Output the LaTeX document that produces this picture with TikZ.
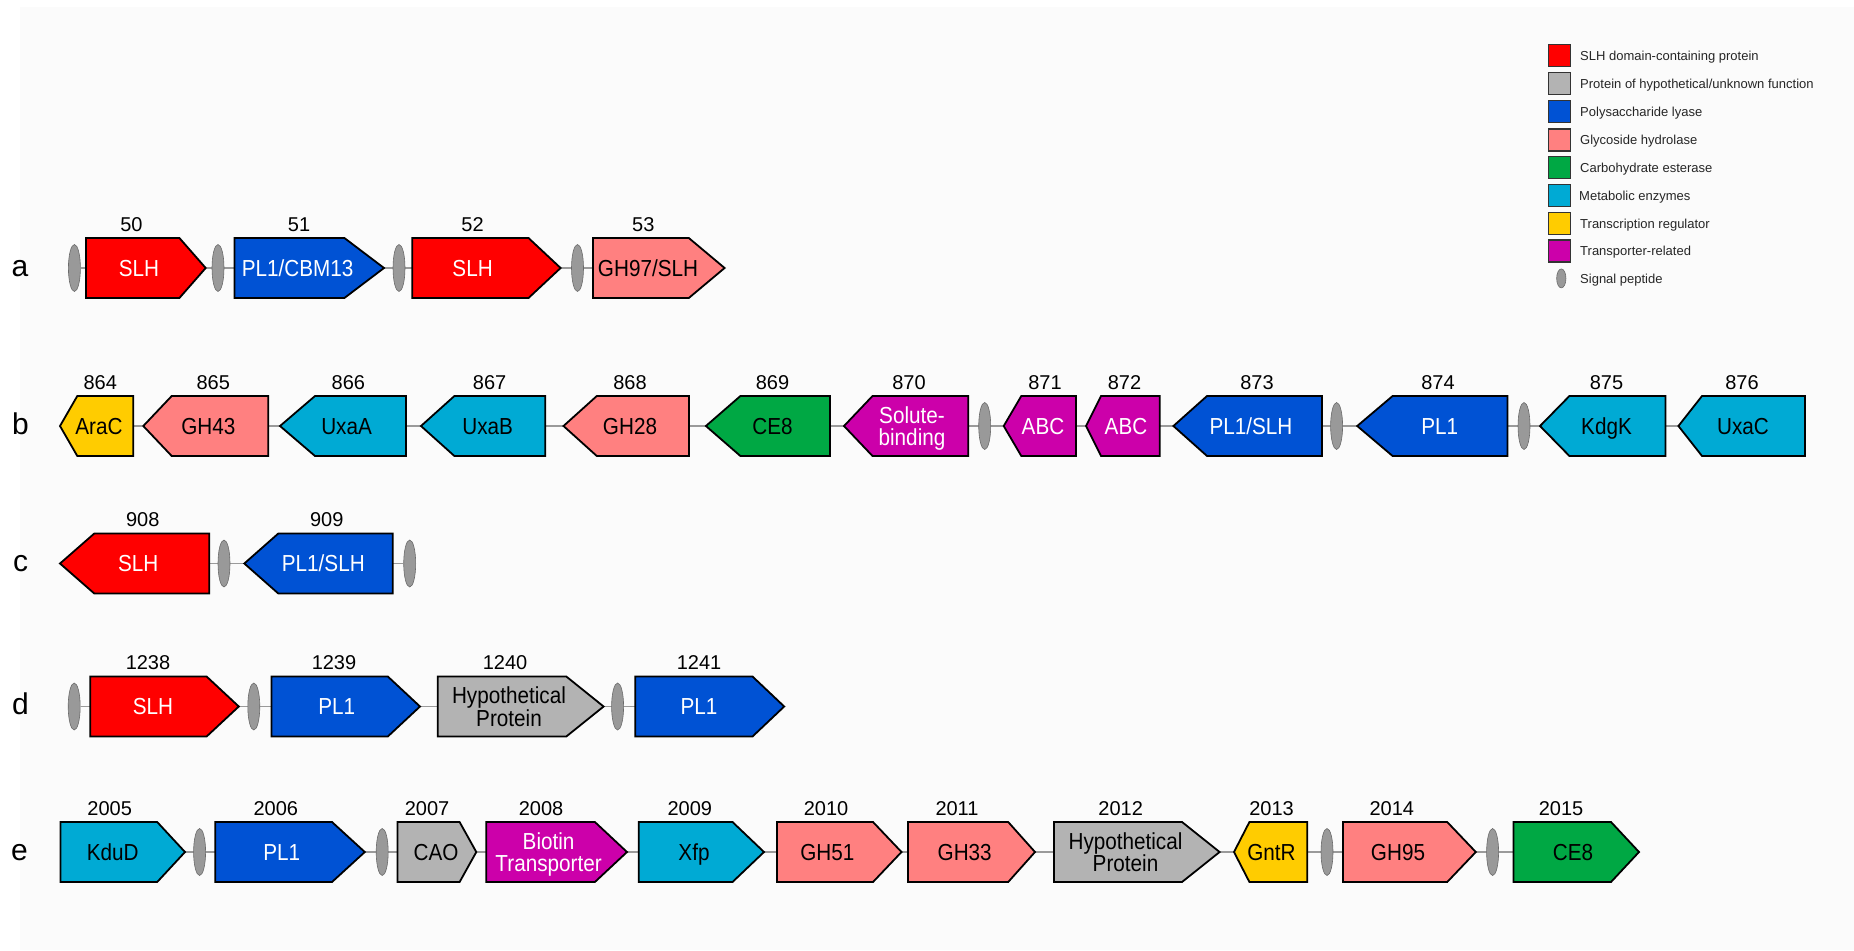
\documentclass[tikz,border=0pt]{standalone}
\usepackage{fontspec}
\setmainfont{Liberation Sans}
\usetikzlibrary{shapes.geometric,backgrounds}
\definecolor{cSLH}{HTML}{FF0000}
\definecolor{cHyp}{HTML}{B3B3B3}
\definecolor{cPL}{HTML}{0052D4}
\definecolor{cGH}{HTML}{FF8080}
\definecolor{cCE}{HTML}{00A844}
\definecolor{cMet}{HTML}{00AAD4}
\definecolor{cTR}{HTML}{FFCC00}
\definecolor{cTP}{HTML}{CC00AA}
\definecolor{cSP}{HTML}{999999}
\definecolor{cBG}{HTML}{FBFBFB}
\definecolor{cBB}{HTML}{9A9A9A}
\newcommand{\vs}[1]{\scalebox{1}[1.12]{#1}}
\newcommand{\two}[2]{\scalebox{1}[1.12]{\begin{tabular}{@{}c@{}}#1\\#2\end{tabular}}}
\newcommand{\geneR}[6]{%
  \draw[gene, fill=#6] (#2,#5-30) -- (#3,#5-30) -- (#4,#5) -- (#3,#5+30) -- (#2,#5+30) -- cycle;
  \coordinate (#1-l) at (#2,#5);
  \coordinate (#1-r) at (#4,#5);}
\newcommand{\geneL}[6]{%
  \draw[gene, fill=#6] (#2,#5) -- (#3,#5-30) -- (#4,#5-30) -- (#4,#5+30) -- (#3,#5+30) -- cycle;
  \coordinate (#1-l) at (#2,#5);
  \coordinate (#1-r) at (#4,#5);}
\tikzset{
  gene/.style={draw=black, line width=1.8pt, line join=miter},
  sp/.style={ellipse, draw=cSP!70!black, line width=0.6pt, fill=cSP, minimum width=12pt, minimum height=47pt, inner sep=0pt},
  bb/.style={draw=cBB, line width=1.6pt},
  glab/.style={inner sep=0pt, anchor=base, yshift=-8.3pt, font=\fontsize{20.7}{16.4}\selectfont},
  glabtwo/.style={inner sep=0pt, anchor=center, yshift=-3pt, font=\fontsize{20.7}{16.4}\selectfont},
  num/.style={inner sep=0pt, anchor=base, yshift=-7.2pt, font=\fontsize{20}{24}\selectfont},
  rowlab/.style={inner sep=0pt, anchor=base, yshift=-8pt, font=\fontsize{30}{36}\selectfont},
  leg/.style={inner sep=0pt, anchor=base west, yshift=-4.7pt, font=\fontsize{13}{15}\selectfont, text=black!85},
  legbox/.style={draw=black!80, line width=1.2pt, minimum size=22pt, inner sep=0pt},
}
\begin{document}
\begin{tikzpicture}[x=1pt,y=-1pt]
\useasboundingbox (0,0) rectangle (1854,950);

% legend
\node[legbox, fill=cSLH] (L1) at (1559.5,55.5) {};
\node[leg] (L1t) at (1580,55.5) {SLH domain-containing protein};
\node[legbox, fill=cHyp] (L2) at (1559.5,83.5) {};
\node[leg] (L2t) at (1580,83.5) {Protein of hypothetical/unknown function};
\node[legbox, fill=cPL] (L3) at (1559.5,111.7) {};
\node[leg] (L3t) at (1580,111.7) {Polysaccharide lyase};
\node[legbox, fill=cGH] (L4) at (1559.5,140) {};
\node[leg] (L4t) at (1580,140) {Glycoside hydrolase};
\node[legbox, fill=cCE] (L5) at (1559.5,167.8) {};
\node[leg] (L5t) at (1580,167.8) {Carbohydrate esterase};
\node[legbox, fill=cMet] (L6) at (1559.5,195.7) {};
\node[leg] (L6t) at (1579,195.7) {Metabolic enzymes};
\node[legbox, fill=cTR] (L7) at (1559.5,223.4) {};
\node[leg] (L7t) at (1580,223.4) {Transcription regulator};
\node[legbox, fill=cTP] (L8) at (1559.5,251) {};
\node[leg] (L8t) at (1580,251) {Transporter-related};
\node[sp, minimum width=9.3pt, minimum height=19pt] (L9) at (1561.3,278.4) {};
\node[leg] (L9t) at (1580,278.4) {Signal peptide};

% row a
\node[rowlab] (ra) at (20,268) {a};
\node[sp] (a-s1) at (74.4,268) {};
\geneR{a50}{86}{179.4}{205.7}{268}{cSLH}
\node[glab,text=white] (a50-t) at (139,268) {\vs{SLH}};
\node[num] (a50-n) at (131.5,224) {50};
\node[sp] (a-s2) at (218,268) {};
\geneR{a51}{234.4}{344.4}{384}{268}{cPL}
\node[glab,text=white] (a51-t) at (297.7,268) {\vs{PL1/CBM13}};
\node[num] (a51-n) at (299,224) {51};
\node[sp] (a-s3) at (399,268) {};
\geneR{a52}{412.3}{528.5}{560.6}{268}{cSLH}
\node[glab,text=white] (a52-t) at (472.6,268) {\vs{SLH}};
\node[num] (a52-n) at (472.6,224) {52};
\node[sp] (a-s4) at (577.5,268) {};
\geneR{a53}{593}{688.8}{724.6}{268}{cGH}
\node[glab] (a53-t) at (648,268) {\vs{GH97/SLH}};
\node[num] (a53-n) at (643.3,224) {53};

% row b
\node[rowlab] (rb) at (20.5,426) {b};
\geneL{b864}{60}{77.3}{133.3}{426}{cTR}
\node[glab] (b864-t) at (99,426) {\vs{AraC}};
\node[num] (b864-n) at (100.3,382) {864};
\geneL{b865}{143.3}{171.7}{268.3}{426}{cGH}
\node[glab] (b865-t) at (208.3,426) {\vs{GH43}};
\node[num] (b865-n) at (213.3,382) {865};
\geneL{b866}{280}{315}{406}{426}{cMet}
\node[glab] (b866-t) at (346.6,426) {\vs{UxaA}};
\node[num] (b866-n) at (348.4,382) {866};
\geneL{b867}{421}{454.4}{545.3}{426}{cMet}
\node[glab] (b867-t) at (487.7,426) {\vs{UxaB}};
\node[num] (b867-n) at (489.6,382) {867};
\geneL{b868}{563.5}{596.8}{689}{426}{cGH}
\node[glab] (b868-t) at (630,426) {\vs{GH28}};
\node[num] (b868-n) at (630,382) {868};
\geneL{b869}{705.9}{740.4}{830}{426}{cCE}
\node[glab] (b869-t) at (772.5,426) {\vs{CE8}};
\node[num] (b869-n) at (772.5,382) {869};
\geneL{b870}{844}{872.5}{968.3}{426}{cTP}
\node[glabtwo,text=white] (b870-t) at (912,426) {\two{Solute-}{binding}};
\node[num] (b870-n) at (909,382) {870};
\node[sp] (b-s1) at (984.7,426) {};
\geneL{b871}{1003.7}{1021.3}{1076}{426}{cTP}
\node[glab,text=white] (b871-t) at (1043,426) {\vs{ABC}};
\node[num] (b871-n) at (1045,382) {871};
\geneL{b872}{1086}{1101}{1159.8}{426}{cTP}
\node[glab,text=white] (b872-t) at (1126,426) {\vs{ABC}};
\node[num] (b872-n) at (1124.5,382) {872};
\geneL{b873}{1173.4}{1207}{1321.9}{426}{cPL}
\node[glab,text=white] (b873-t) at (1251,426) {\vs{PL1/SLH}};
\node[num] (b873-n) at (1257,382) {873};
\node[sp] (b-s2) at (1336.6,426) {};
\geneL{b874}{1357.2}{1392.6}{1507.5}{426}{cPL}
\node[glab,text=white] (b874-t) at (1439.7,426) {\vs{PL1}};
\node[num] (b874-n) at (1438,382) {874};
\node[sp] (b-s3) at (1524,426) {};
\geneL{b875}{1540}{1569.4}{1665.4}{426}{cMet}
\node[glab] (b875-t) at (1606.5,426) {\vs{KdgK}};
\node[num] (b875-n) at (1606.5,382) {875};
\geneL{b876}{1678.4}{1702}{1805}{426}{cMet}
\node[glab] (b876-t) at (1743,426) {\vs{UxaC}};
\node[num] (b876-n) at (1742,382) {876};

% row c
\node[rowlab] (rc) at (20.5,563.5) {c};
\geneL{c908}{60}{94.3}{209.3}{563.5}{cSLH}
\node[glab,text=white] (c908-t) at (138.3,563.5) {\vs{SLH}};
\node[num] (c908-n) at (142.7,519.5) {908};
\node[sp] (c-s1) at (224,563.5) {};
\geneL{c909}{244.3}{278.3}{392.7}{563.5}{cPL}
\node[glab,text=white] (c909-t) at (323.3,563.5) {\vs{PL1/SLH}};
\node[num] (c909-n) at (326.7,519.5) {909};
\node[sp] (c-s2) at (409.7,563.5) {};

% row d
\node[rowlab] (rd) at (20.4,706.5) {d};
\node[sp] (d-s1) at (74.2,706.5) {};
\geneR{d1238}{90.3}{206.6}{238.8}{706.5}{cSLH}
\node[glab,text=white] (d1238-t) at (153,706.5) {\vs{SLH}};
\node[num] (d1238-n) at (148,662.5) {1238};
\node[sp] (d-s2) at (253.8,706.5) {};
\geneR{d1239}{271.4}{387.8}{420}{706.5}{cPL}
\node[glab,text=white] (d1239-t) at (336.7,706.5) {\vs{PL1}};
\node[num] (d1239-n) at (334,662.5) {1239};
\geneR{d1240}{437.8}{566.3}{603.6}{706.5}{cHyp}
\node[glabtwo] (d1240-t) at (509,706.5) {\two{Hypothetical}{Protein}};
\node[num] (d1240-n) at (505,662.5) {1240};
\node[sp] (d-s3) at (617.6,706.5) {};
\geneR{d1241}{635.2}{752.5}{784.2}{706.5}{cPL}
\node[glab,text=white] (d1241-t) at (699,706.5) {\vs{PL1}};
\node[num] (d1241-n) at (699,662.5) {1241};

% row e
\node[rowlab] (re) at (19.5,852) {e};
\geneR{e2005}{60.5}{157.2}{185}{852}{cMet}
\node[glab] (e2005-t) at (112.7,852) {\vs{KduD}};
\node[num] (e2005-n) at (109.7,808) {2005};
\node[sp] (e-s1) at (199.6,852) {};
\geneR{e2006}{215.3}{332}{364.8}{852}{cPL}
\node[glab,text=white] (e2006-t) at (281.7,852) {\vs{PL1}};
\node[num] (e2006-n) at (275.8,808) {2006};
\node[sp] (e-s2) at (382.2,852) {};
\geneR{e2007}{397.4}{459.6}{476.3}{852}{cHyp}
\node[glab] (e2007-t) at (436,852) {\vs{CAO}};
\node[num] (e2007-n) at (427,808) {2007};
\geneR{e2008}{486.3}{594.9}{627}{852}{cTP}
\node[glabtwo,text=white] (e2008-t) at (548.6,852) {\two{Biotin}{Transporter}};
\node[num] (e2008-n) at (541,808) {2008};
\geneR{e2009}{638.8}{732.5}{764}{852}{cMet}
\node[glab] (e2009-t) at (694,852) {\vs{Xfp}};
\node[num] (e2009-n) at (689.8,808) {2009};
\geneR{e2010}{777}{873}{901.5}{852}{cGH}
\node[glab] (e2010-t) at (827.4,852) {\vs{GH51}};
\node[num] (e2010-n) at (826,808) {2010};
\geneR{e2011}{908}{1008.2}{1035}{852}{cGH}
\node[glab] (e2011-t) at (964.7,852) {\vs{GH33}};
\node[num] (e2011-n) at (957,808) {2011};
\geneR{e2012}{1054}{1182}{1219.6}{852}{cHyp}
\node[glabtwo] (e2012-t) at (1125.5,852) {\two{Hypothetical}{Protein}};
\node[num] (e2012-n) at (1120.7,808) {2012};
\geneL{e2013}{1234}{1249.4}{1307.2}{852}{cTR}
\node[glab] (e2013-t) at (1271.5,852) {\vs{GntR}};
\node[num] (e2013-n) at (1271.5,808) {2013};
\node[sp] (e-s3) at (1327,852) {};
\geneR{e2014}{1343}{1447.2}{1475.8}{852}{cGH}
\node[glab] (e2014-t) at (1398,852) {\vs{GH95}};
\node[num] (e2014-n) at (1391.8,808) {2014};
\node[sp] (e-s4) at (1492.6,852) {};
\geneR{e2015}{1513.5}{1611}{1639}{852}{cCE}
\node[glab] (e2015-t) at (1573,852) {\vs{CE8}};
\node[num] (e2015-n) at (1561,808) {2015};

\begin{scope}[on background layer]
\fill[cBG] (20,7) rectangle (1854,950);
\draw[bb] (a-s1) -- (a53-l);
\draw[bb] (b864-r) -- (b876-l);
\draw[bb] (c908-r) -- (c-s2);
\draw[bb] (d-s1) -- (d1241-l);
\draw[bb] (e2005-r) -- (e2015-l);
\end{scope}
\end{tikzpicture}
\end{document}
